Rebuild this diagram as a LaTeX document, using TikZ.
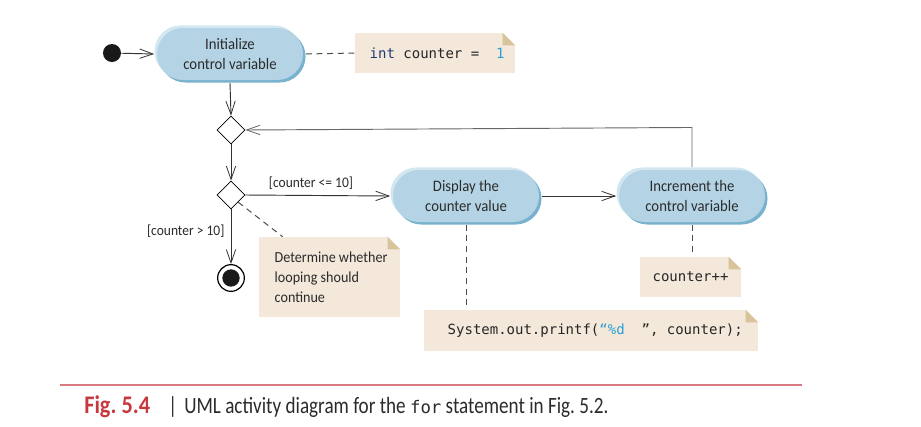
\documentclass[tikz,border=0pt]{standalone}
\usepackage{fontspec}
\setmainfont{Carlito}
\newfontfamily\nar{Carlito}[FakeStretch=0.92]
\newfontfamily\capf{Carlito}[FakeStretch=0.82]
\newfontfamily\figf{Carlito}[FakeStretch=0.88]
\setmonofont{DejaVu Sans Mono}
\usetikzlibrary{shapes.misc,shapes.geometric,arrows.meta,shadows,calc}
\definecolor{pillfill}{HTML}{B4D4E5}
\definecolor{rimlight}{HTML}{D3E7F1}
\definecolor{rimdark}{HTML}{78B2CE}
\definecolor{notebg}{HTML}{F3E8DA}
\definecolor{notefold}{HTML}{D9C39B}
\definecolor{txt}{HTML}{2B2B2B}
\definecolor{kw}{HTML}{1F3C78}
\definecolor{lit}{HTML}{2A9FD6}
\definecolor{capred}{HTML}{C8393F}
\definecolor{rulered}{HTML}{D97A80}
\frenchspacing
\begin{document}
\begin{tikzpicture}[x=0.75pt,y=-0.75pt,
  pill/.style={rounded rectangle, minimum width=109.5pt, minimum height=39pt, inner sep=0pt,
    fill=pillfill, text=txt, align=center, font=\nar\fontsize{12}{15}\selectfont,
    general shadow={fill=rimlight, shadow xshift=-1.9pt, shadow yshift=1.9pt},
    general shadow={fill=rimdark, shadow xshift=1.9pt, shadow yshift=-1.9pt}},
  note/.style={fill=notebg, inner sep=0pt, text=txt},
  dec/.style={diamond, draw=black, fill=white, line width=0.6pt, minimum width=21pt, minimum height=21pt, inner sep=0pt},
  arr/.style={draw=black!80, line width=0.7pt, -{Straight Barb[length=10pt,width=7pt,line width=0.6pt]}},
  conn/.style={draw=black!70, line width=0.75pt, dash pattern=on 4.5pt off 3.5pt},
  lbl/.style={text=txt, font=\nar\fontsize{11}{12}\selectfont, inner sep=1pt},
  code/.style={font=\ttfamily\fontsize{10.5}{12}\selectfont, text=black!85}
]
\useasboundingbox (0,0) rectangle (921,426);
% nodes
\node[circle, fill=black!90, minimum size=13.5pt, inner sep=0pt] (init) at (112,53) {};
\node[pill] (A) at (230,54) {Initialize\\control variable};
\node[note, minimum width=120pt, minimum height=30pt] (nA) at (435,53) {};
\node[code, anchor=west] (tA) at (365,53) {\textcolor{kw}{int} counter =\ \ \textcolor{lit}{1}};
\node[dec] (D1) at (231,130) {};
\node[dec] (D2) at (231,195) {};
\node[pill] (B) at (466,196) {Display the\\counter value};
\node[pill] (C) at (692,196) {Increment the\\control variable};
\node[circle, draw=black, line width=0.9pt, fill=white, minimum size=20pt, inner sep=0pt] (fin) at (231,278) {};
\node[circle, fill=black!90, minimum size=13pt, inner sep=0pt] at (fin) {};
\node[note, minimum width=105.75pt, minimum height=60pt] (nD) at (329.5,277) {};
\node[anchor=west, align=left, text=txt, font=\nar\fontsize{11.5}{15}\selectfont] (tD) at (270,277) {Determine whether\\looping should\\continue};
\node[note, minimum width=250.5pt, minimum height=30.75pt] (nB) at (591,330.5) {};
\node[code, anchor=west] (tB) at (443,330.5) {System.out.printf(\textcolor{lit}{“\%d}\ \ ”, counter);};
\node[note, minimum width=75.75pt, minimum height=30pt] (nC) at (690.5,277) {};
\node[code] (tC) at (nC) {counter++};
\foreach \n in {nA,nD,nB,nC}{
  \fill[white] (\n.north east) -- ([xshift=-9.5pt]\n.north east) -- ([yshift=-9.5pt]\n.north east) -- cycle;
  \fill[notefold] ([xshift=-9.5pt]\n.north east) -- ([xshift=-9.5pt,yshift=-9.5pt]\n.north east) -- ([yshift=-9.5pt]\n.north east) -- cycle;
}
% labels
\node[lbl] (l1) at (311,183) {[counter <= 10]};
\node[lbl, anchor=east] (l2) at (226,231) {[counter > 10]};
% connectors
\draw[arr] (init) -- ([xshift=-1.9pt]A.west);
\draw[arr] ([yshift=-1.9pt]A.south) -- (D1.north);
\draw[arr] (D1.south) -- (D2.north);
\draw[arr] (D2.east) -- ([xshift=-1.9pt]B.west);
\draw[arr] ([xshift=1.9pt]B.east) -- ([xshift=-1.9pt]C.west);
\draw[arr, draw=black!60] ([yshift=1.9pt]C.north) -- ([yshift=1.9pt]C.north |- D1.east) -- (D1.east);
\draw[arr] (D2.south) -- (fin.north);
\draw[conn] ([xshift=1.9pt]A.east) -- (nA.west);
\draw[conn] (D2.south east) -- ($(nD.north west)+(24,0)$);
\draw[conn] ([yshift=-1.9pt]B.south) -- (B.south |- nB.north);
\draw[conn] ([yshift=-1.9pt]C.south) -- (C.south |- nC.north);
% caption
\coordinate (r1) at (60,385);
\coordinate (r2) at (802,385);
\draw[rulered, line width=1.1pt] (r1) -- (r2);
\node[anchor=base west, inner sep=0pt, text=capred, font=\figf\bfseries\fontsize{19}{20}\selectfont] (fig) at (84,413) {Fig.\ 5.4};
\node[anchor=base west, inner sep=0pt, text=txt, font=\capf\fontsize{17.5}{20}\selectfont] (bar) at (168,413) {|};
\node[anchor=base west, inner sep=0pt, text=txt, font=\capf\fontsize{17.5}{20}\selectfont] (cap) at (184,413) {UML activity diagram for the {\ttfamily\fontsize{13}{15}\selectfont for} statement in Fig.\ 5.2.};
\end{tikzpicture}
\end{document}
